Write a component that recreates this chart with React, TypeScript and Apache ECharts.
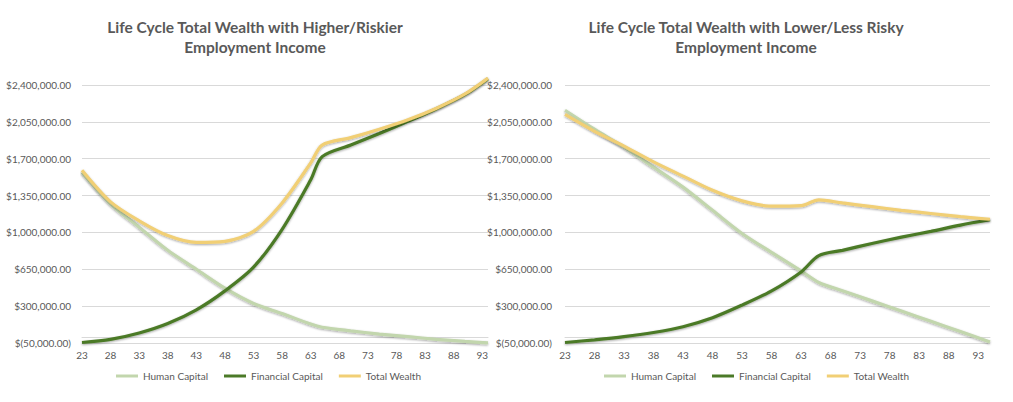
import React, { useEffect, useRef } from "react";
import * as echarts from "echarts";

// Category axes (ages)
const agesLeft = ["23","24","25","26","27","28","29","30","31","32","33","34","35","36","37","38","39","40","41","42","43","44","45","46","47","48","49","50","51","52","53","54","55","56","57","58","59","60","61","62","63","64","65","66","67","68","69","70","71","72","73","74","75","76","77","78","79","80","81","82","83","84","85","86","87","88","89","90","91","92","93","94"];
const agesRight = ["23","24","25","26","27","28","29","30","31","32","33","34","35","36","37","38","39","40","41","42","43","44","45","46","47","48","49","50","51","52","53","54","55","56","57","58","59","60","61","62","63","64","65","66","67","68","69","70","71","72","73","74","75","76","77","78","79","80","81","82","83","84","85","86","87","88","89","90","91","92","93","94","95"];

const sampleLeft = ["23","28","33","38","43","48","53","58","63","65","70","75","80","85","90","94"];
const sampleRight = ["23","28","33","38","43","48","53","58","63","66","70","75","80","85","90","95"];

// Left chart: Higher/Riskier Employment Income
const humanLeft = [1570000, 1270000, 1050000, 830000, 650000, 470000, 325000, 230000, 130000, 100000, 65000, 35000, 10000, -15000, -35000, -48000];
const financialLeft = [-45000, -15000, 45000, 135000, 265000, 445000, 670000, 1030000, 1500000, 1720000, 1830000, 1940000, 2055000, 2175000, 2310000, 2460000];
const totalLeft = [1590000, 1290000, 1110000, 970000, 905000, 915000, 1010000, 1280000, 1660000, 1830000, 1900000, 1980000, 2070000, 2180000, 2315000, 2465000];

// Right chart: Lower/Less Risky Employment Income
const humanRight = [2160000, 1980000, 1810000, 1620000, 1430000, 1210000, 990000, 810000, 635000, 525000, 447000, 350000, 253000, 156000, 59000, -40000];
const financialRight = [-45000, -20000, 10000, 50000, 105000, 190000, 310000, 445000, 625000, 780000, 830000, 895000, 955000, 1010000, 1070000, 1120000];
const totalRight = [2120000, 1960000, 1820000, 1670000, 1535000, 1400000, 1300000, 1250000, 1255000, 1310000, 1280000, 1245000, 1210000, 1180000, 1150000, 1125000];

// Y tick values
const yTicks = [-50000, 300000, 650000, 1000000, 1350000, 1700000, 2050000, 2400000];

const seriesNames = ["Human Capital", "Financial Capital", "Total Wealth"];
const colors = ["#c2d6ad", "#4b7a28", "#f1cf75"];

const FONT = "Lato";
const GRAY = "#595959";

function fmtMoney(v: number): string {
  const abs = Math.abs(v).toLocaleString("en-US", { minimumFractionDigits: 2, maximumFractionDigits: 2 });
  return v < 0 ? `$(${abs})` : `$${abs}`;
}

export default function App() {
  const ref = useRef<HTMLDivElement>(null);
  useEffect(() => {
    document.body.style.margin = "0";
    if (!ref.current) return;
    const chart = echarts.init(ref.current, null, { renderer: "svg" });

    const mkX = (idx: number, data: string[]) => ({
      type: "category" as const,
      gridIndex: idx,
      data,
      boundaryGap: false,
      axisTick: { show: false },
      axisLine: { show: true, lineStyle: { color: "#d9d9d9", width: 1 } },
      axisLabel: { interval: 4, color: GRAY, fontFamily: FONT, fontSize: 10, margin: 7 },
      splitLine: { show: false },
    });
    const mkY = (idx: number, margin: number) => ({
      type: "value" as const,
      gridIndex: idx,
      min: -50000,
      max: 2400000,
      axisLine: { show: false },
      axisTick: { show: false, customValues: yTicks },
      axisLabel: { color: GRAY, fontFamily: FONT, fontSize: 10, margin, customValues: yTicks, formatter: (v: number) => fmtMoney(v) },
      splitLine: { show: true, lineStyle: { color: "#d9d9d9", width: 1 } },
    });

    const mkSeries = (idx: number, names: string[], vals: number[][]) =>
      seriesNames.map((name, i) => ({
        type: "line" as const,
        name,
        xAxisIndex: idx,
        yAxisIndex: idx,
        data: names.map((a, j) => [a, vals[i][j]]),
        showSymbol: false,
        symbol: "none",
        smooth: 0.3,
        clip: false,
        lineStyle: {
          color: colors[i],
          width: 3.2,
          shadowColor: "rgba(0,0,0,0.35)",
          shadowBlur: 2,
          shadowOffsetY: 1,
        },
        itemStyle: { color: colors[i] },
        z: 2 + i,
      }));

    const titleStyle = { color: GRAY, fontFamily: FONT, fontSize: 15.5, fontWeight: "bold" as const, lineHeight: 20 };
    const legendCommon = {
      data: seriesNames,
      itemWidth: 22,
      itemHeight: 8,
      itemGap: 16,
      padding: 0,
      icon: "path://M0,0 L22,0 L22,3 L0,3 Z",
      textStyle: { color: GRAY, fontFamily: FONT, fontSize: 10 },
      top: 371,
    };

    chart.setOption({
      animation: false,
      backgroundColor: "#ffffff",
      title: [
        { text: "Life Cycle Total Wealth with Higher/Riskier\nEmployment Income", left: 250, top: 12, textAlign: "center", textStyle: titleStyle },
        { text: "Life Cycle Total Wealth with Lower/Less Risky\nEmployment Income", left: 741, top: 12, textAlign: "center", textStyle: titleStyle },
      ],
      legend: [
        { ...legendCommon, left: 116 },
        { ...legendCommon, left: 604 },
      ],
      grid: [
        { left: 82, top: 85, width: 406, height: 258 },
        { left: 565, top: 85, width: 425, height: 258 },
      ],
      xAxis: [mkX(0, agesLeft), mkX(1, agesRight)],
      yAxis: [mkY(0, 11), mkY(1, 13)],
      series: [
        ...mkSeries(0, sampleLeft, [humanLeft, financialLeft, totalLeft]),
        ...mkSeries(1, sampleRight, [humanRight, financialRight, totalRight]),
      ],
    });
    return () => chart.dispose();
  }, []);
  return <div ref={ref} style={{ width: 1013, height: 402 }} />;
}
